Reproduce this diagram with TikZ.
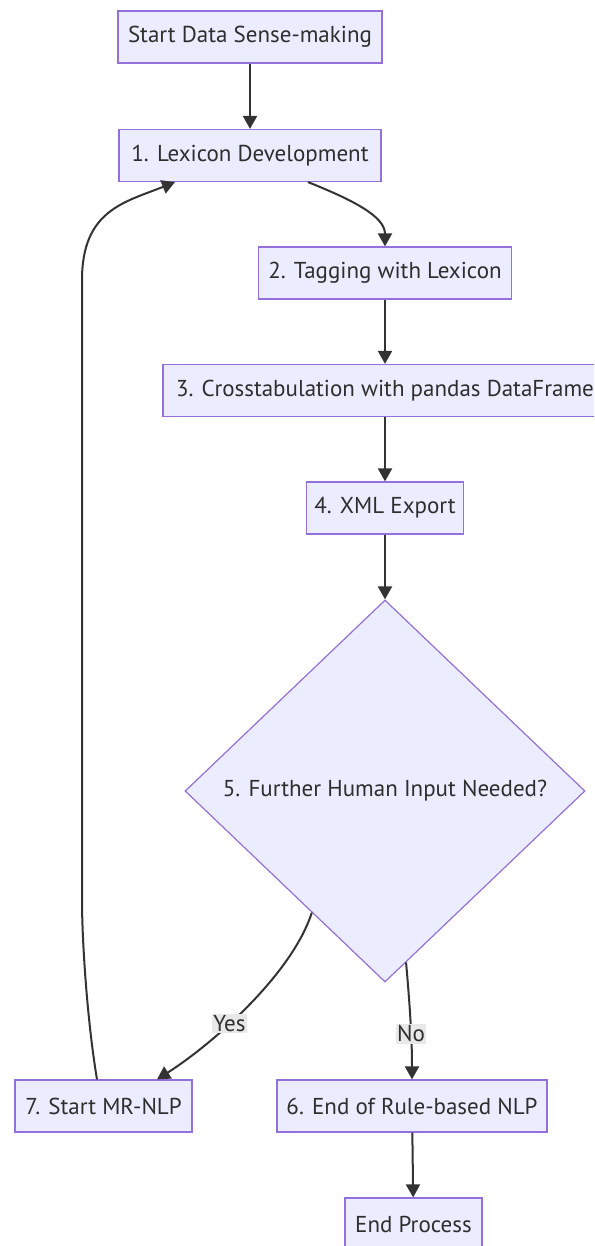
\documentclass[tikz,border=0pt]{standalone}
\usepackage{fontspec}
\setmainfont{PT Sans}
\usetikzlibrary{shapes.geometric,arrows.meta,calc}
\definecolor{boxfill}{HTML}{ECECFF}
\definecolor{boxline}{HTML}{9370DB}
\definecolor{edgecol}{HTML}{333333}
\definecolor{lblbg}{HTML}{E8E8E8}
\definecolor{txtcol}{HTML}{2E2E2E}
\begin{document}
\begin{tikzpicture}[x=1pt,y=-1pt,
  procbox/.style={draw=boxline, fill=boxfill, line width=1.2pt, minimum height=52pt, inner sep=0pt, font=\fontsize{23}{26}\selectfont, text=txtcol},
  decbox/.style={diamond, draw=boxline, fill=boxfill, line width=1.2pt, minimum width=400pt, minimum height=382pt, inner sep=0pt, font=\fontsize{23}{26}\selectfont, text=txtcol},
  flow/.style={draw=edgecol, line width=2pt, -{Triangle[width=14pt,length=13pt]}},
  lbl/.style={fill=lblbg, inner sep=1.5pt, font=\fontsize{23}{26}\selectfont, text=txtcol}]
\useasboundingbox (0,0) rectangle (594,1246);
\clip (0,0) rectangle (594,1246);
\fill[white] (0,0) rectangle (594,1246);

\node[procbox, minimum width=264pt] (s) at (250,37) {Start Data Sense-making};
\node[procbox, minimum width=262pt] (b1) at (250,155.5) {1. Lexicon Development};
\node[procbox, minimum width=253pt] (b2) at (385,273) {2. Tagging with Lexicon};
\node[procbox, minimum width=444pt] (b3) at (385,390.5) {3. Crosstabulation with pandas DataFrame};
\node[procbox, minimum width=157pt] (b4) at (385,508) {4. XML Export};
\node[decbox] (d5) at (385,791) {5. Further Human Input Needed?};
\node[procbox, minimum width=177pt] (b7) at (103.5,1106) {7. Start MR-NLP};
\node[procbox, minimum width=270pt] (b6) at (412,1106) {6. End of Rule-based NLP};
\node[procbox, minimum width=137pt] (e) at (413.5,1224) {End Process};

\draw[flow] (s) -- (b1);
\draw[flow] ([xshift=58pt]b1.south) .. controls +(45,18) and +(0,-30) .. (b2.north);
\draw[flow] (b2) -- (b3);
\draw[flow] (b3) -- (b4);
\draw[flow] (b4) -- (d5.north);
\draw[flow] ($(d5.west)!0.635!(d5.south)$) .. controls +(-20,62) and +(55,-35) .. node[lbl, pos=0.6] {Yes} ([xshift=53.5pt]b7.north);
\draw[flow] ($(d5.south)!0.105!(d5.east)$) .. controls +(4,45) and +(0,-40) .. node[lbl, pos=0.6] {No} (b6.north);
\draw[flow] (b6) -- (e);
\draw[flow] ([xshift=-6.5pt]b7.north) .. controls +(-10,-60) and +(0,40) .. (82,900) -- (82,280) .. controls +(0,-70) and +(-50,20) .. ([xshift=-75pt]b1.south);
\end{tikzpicture}
\end{document}
